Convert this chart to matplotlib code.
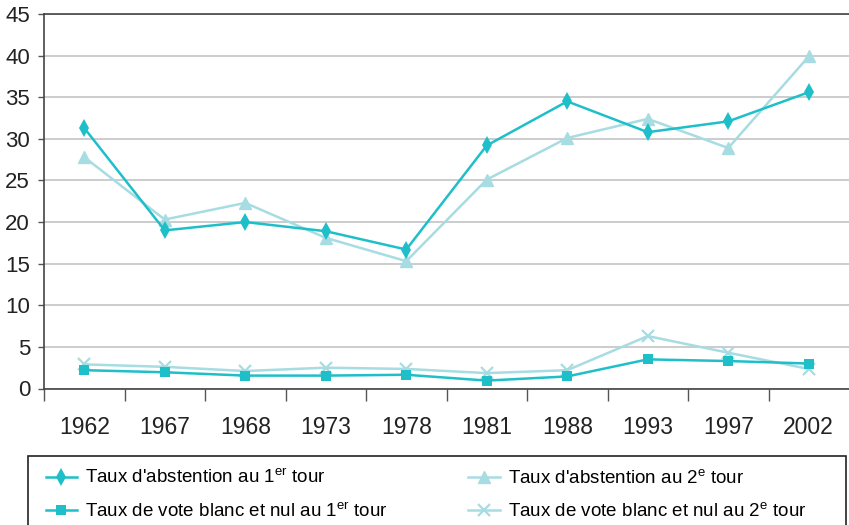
import matplotlib
matplotlib.use("Agg")
import matplotlib.pyplot as plt
from matplotlib.patches import Rectangle
from matplotlib.lines import Line2D

plt.rcParams['font.family'] = ['Liberation Sans', 'DejaVu Sans']
plt.rcParams['mathtext.fontset'] = 'custom'
plt.rcParams['mathtext.rm'] = 'Liberation Sans'
plt.rcParams['mathtext.it'] = 'Liberation Sans'

years = ['1962', '1967', '1968', '1973', '1978', '1981', '1988', '1993', '1997', '2002']
abst_1 = [31.3, 19.0, 20.0, 18.9, 16.7, 29.2, 34.5, 30.8, 32.1, 35.6]
abst_2 = [27.8, 20.3, 22.3, 18.1, 15.3, 25.1, 30.1, 32.4, 28.9, 39.9]
blanc_1 = [2.2, 1.95, 1.55, 1.55, 1.65, 0.95, 1.45, 3.5, 3.3, 3.0]
blanc_2 = [2.9, 2.6, 2.1, 2.5, 2.35, 1.85, 2.2, 6.3, 4.3, 2.35]

labels = ["Taux d'abstention au 1$^{\\mathrm{er}}$ tour",
          "Taux d'abstention au 2$^{\\mathrm{e}}$ tour",
          "Taux de vote blanc et nul au 1$^{\\mathrm{er}}$ tour",
          "Taux de vote blanc et nul au 2$^{\\mathrm{e}}$ tour"]

dark = '#1fbfc9'
light = '#a6dce2'

fig = plt.figure(figsize=(8.49, 5.25), dpi=100)
ax = fig.add_axes([44/849, 1-388.5/525, 1-44/849, (388.5-14)/525])

x = list(range(len(years)))
ax.plot(x, abst_2, color=light, lw=1.8, marker='^', ms=9, zorder=3)
ax.plot(x, abst_1, color=dark, lw=1.8, marker='d', ms=9, markeredgewidth=0, zorder=4)
ax.plot(x, blanc_2, color=light, lw=1.8, marker='x', ms=9, markeredgewidth=1.6, zorder=3)
ax.plot(x, blanc_1, color=dark, lw=1.8, marker='s', ms=7, markeredgewidth=0, zorder=4)

ax.set_xlim(-0.5, len(years) - 0.5)
ax.set_ylim(0, 45)
ax.set_yticks(range(0, 46, 5))
ax.set_yticklabels([str(v) for v in range(0, 46, 5)], fontsize=16, color='#222222')
ax.set_xticks(x)
ax.set_xticklabels(years, fontsize=16.5, color='#222222')
ax.set_xticks([i - 0.5 for i in range(0, len(years))], minor=True)
ax.tick_params(axis='x', which='major', length=0, pad=20)
ax.tick_params(axis='x', which='minor', length=8.5, width=1, color='#555555', direction='out')
ax.tick_params(axis='y', length=4, width=1, color='#555555', pad=6)

ax.grid(axis='y', color='#c4c4c4', lw=1.2)
ax.set_axisbelow(True)
for s in ['left', 'bottom', 'top']:
    ax.spines[s].set_color('#444444')
    ax.spines[s].set_linewidth(1.2)
ax.spines['right'].set_visible(False)

# legend
fig.patches.append(Rectangle((28/849, -0.05), (846-28)/849, 0.05 + 1-456/525,
                             transform=fig.transFigure, fill=False,
                             edgecolor='#222222', lw=1.2))
handles = [
    Line2D([], [], color=dark, lw=1.8, marker='d', ms=9, markeredgewidth=0),
    Line2D([], [], color=dark, lw=1.8, marker='s', ms=7, markeredgewidth=0),
    Line2D([], [], color=light, lw=1.8, marker='^', ms=9),
    Line2D([], [], color=light, lw=1.8, marker='x', ms=9, markeredgewidth=1.6),
]
leg_labels = [labels[0], labels[2], labels[1], labels[3]]
fig.legend(handles, leg_labels, ncol=2, loc='upper left',
           bbox_to_anchor=(38/849, 1-461/525), frameon=False,
           fontsize=13.5, handlelength=1.7, handletextpad=0.4,
           columnspacing=4.3, labelspacing=0.8, borderaxespad=0)

fig.savefig('out.png', dpi=100)
